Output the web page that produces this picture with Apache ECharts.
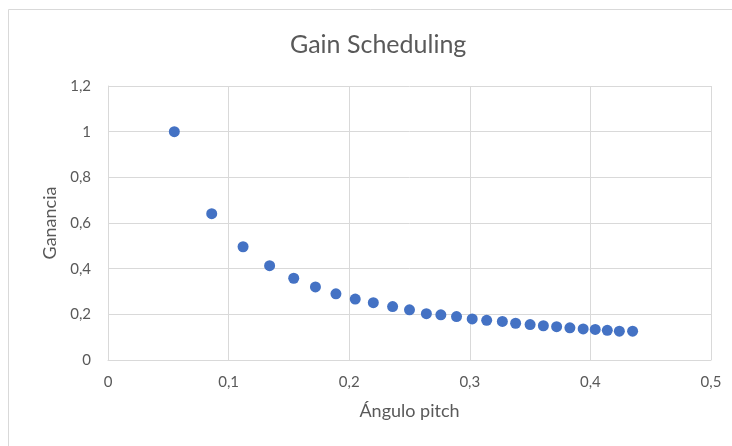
<!DOCTYPE html>
<html>
<head>
<meta charset="utf-8">
<script src="https://cdn.jsdelivr.net/npm/echarts@6/dist/echarts.min.js"></script>
<style>
  html, body { margin: 0; padding: 0; background: #ffffff; }
  #chart { width: 732px; height: 446px; }
</style>
</head>
<body>
<div id="chart"></div>
<script>
// Pitch angle (rad) and scheduled gain
const pitchAngle = [0.055, 0.086, 0.112, 0.134, 0.154, 0.172, 0.189, 0.205, 0.220, 0.236,
  0.250, 0.264, 0.276, 0.289, 0.302, 0.314, 0.327, 0.338, 0.350, 0.361,
  0.372, 0.383, 0.394, 0.404, 0.414, 0.424, 0.435];
const gain = [1.0, 0.641, 0.496, 0.413, 0.358, 0.320, 0.290, 0.267, 0.251, 0.234,
  0.220, 0.203, 0.198, 0.190, 0.180, 0.174, 0.169, 0.161, 0.155, 0.150,
  0.146, 0.141, 0.136, 0.134, 0.130, 0.126, 0.126];

const points = pitchAngle.map((x, i) => [x, gain[i]]);
const fmt = v => String(Math.round(v * 10) / 10).replace('.', ',');
const FONT = 'Lato, "Open Sans", sans-serif';
const TEXT = '#595959';
const GRID = '#d9d9d9';

const chart = echarts.init(document.getElementById('chart'), null, { renderer: 'canvas' });
chart.setOption({
  backgroundColor: '#ffffff',
  animation: false,
  graphic: [{
    type: 'rect',
    shape: { x: 8.5, y: 9.5, width: 800, height: 500 },
    style: { fill: 'none', stroke: GRID, lineWidth: 1 },
    silent: true
  }],
  title: {
    text: 'Gain Scheduling',
    left: 285,
    top: 27,
    textStyle: { fontFamily: FONT, fontSize: 25, fontWeight: 'normal', color: TEXT }
  },
  grid: { left: 108, right: 21, top: 86, bottom: 86 },
  xAxis: {
    type: 'value',
    min: 0, max: 0.5, interval: 0.1,
    name: 'Ángulo pitch',
    nameLocation: 'middle',
    nameGap: 42,
    nameTextStyle: { fontFamily: FONT, fontSize: 18, color: TEXT },
    axisLine: { show: true, lineStyle: { color: GRID } },
    axisTick: { show: false },
    axisLabel: { fontFamily: FONT, fontSize: 15, color: TEXT, margin: 15, formatter: fmt },
    splitLine: { show: true, lineStyle: { color: GRID, width: 1 } }
  },
  yAxis: {
    type: 'value',
    min: 0, max: 1.2, interval: 0.2,
    name: 'Ganancia',
    nameLocation: 'middle',
    nameGap: 49,
    nameTextStyle: { fontFamily: FONT, fontSize: 18, color: TEXT },
    axisLine: { show: true, lineStyle: { color: GRID } },
    axisTick: { show: false },
    axisLabel: { fontFamily: FONT, fontSize: 15, color: TEXT, margin: 17, formatter: fmt },
    splitLine: { show: true, lineStyle: { color: GRID, width: 1 } }
  },
  series: [{
    type: 'scatter',
    data: points,
    symbol: 'circle',
    symbolSize: 11,
    itemStyle: { color: '#4472C4', opacity: 1 }
  }]
});
</script>
</body>
</html>
